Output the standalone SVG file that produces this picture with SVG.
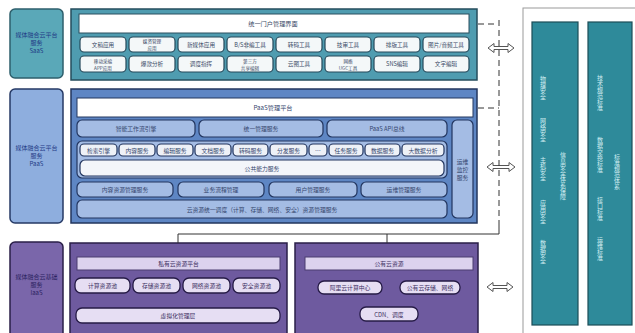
<svg xmlns="http://www.w3.org/2000/svg" width="635" height="333" viewBox="0 0 635 333">
<style>
text{font-family:"Noto Sans CJK SC","Noto Sans",sans-serif;font-size:6px;text-anchor:middle;dominant-baseline:central}
.lab{fill:#1f3a86;font-size:6px}
.sbtn{fill:#f4f8f9;stroke:#24495a;stroke-width:1.2}
.st{fill:#3a4a66;font-size:5.6px}
.s2{fill:#3a4a66;font-size:4.6px}
.pbar{fill:#a4bce4;stroke:#22355f;stroke-width:1.2}
.pbtn{fill:#eef1f7;stroke:#22355f;stroke-width:1.2}
.pt{fill:#34466e;font-size:5.8px}
.ibtn{fill:#e6def3;stroke:#261b46;stroke-width:1.3}
.it{fill:#3b2e5e;font-size:5.8px}
.col{fill:#2e8a9a;stroke:#1c4d57;stroke-width:1.2}
.vt{fill:#d2eef2;font-size:6px;writing-mode:vertical-rl;text-orientation:upright;text-anchor:start;dominant-baseline:central}
.dash{stroke:#333;stroke-width:1;stroke-dasharray:6,4;fill:none}
.ln{stroke:#333;stroke-width:1;fill:none}
.arr{fill:#fff;stroke:#555;stroke-width:1}
</style>
<rect width="635" height="333" fill="#fff"/>

<!-- SaaS layer -->
<g id="saas-label">
<rect x="10" y="9" width="53" height="69" rx="5" fill="#5aa8b8" stroke="#2e5f6c" stroke-width="1.5"/>
<text class="lab" x="36.5" y="34">媒体融合云平台</text>
<text class="lab" x="36.5" y="42">服务</text>
<text class="lab" x="36.5" y="50">SaaS</text>
</g>
<g id="saas">
<rect x="71" y="9" width="406" height="71" fill="#4f9cb0" stroke="#244c5c" stroke-width="1.5"/>
<rect x="79" y="14" width="390" height="19" fill="#fff" stroke="#2a4f5f" stroke-width="1"/>
<text x="273" y="23.5" style="fill:#3a4a66;font-size:6.2px">统一门户管理界面</text>
<rect class="sbtn" x="80" y="37" width="46" height="15" rx="4"/><text class="st" x="103" y="44.5">文稿应用</text>
<rect class="sbtn" x="129" y="37" width="46" height="15" rx="4"/><text class="s2" x="152" y="41.2">媒资管理</text><text class="s2" x="152" y="48">应用</text>
<rect class="sbtn" x="178" y="37" width="46" height="15" rx="4"/><text class="st" x="201" y="44.5">新媒体应用</text>
<rect class="sbtn" x="227" y="37" width="46" height="15" rx="4"/><text class="st" x="250" y="44.5">B/S非编工具</text>
<rect class="sbtn" x="276" y="37" width="46" height="15" rx="4"/><text class="st" x="299" y="44.5">转码工具</text>
<rect class="sbtn" x="325" y="37" width="46" height="15" rx="4"/><text class="st" x="348" y="44.5">技审工具</text>
<rect class="sbtn" x="374" y="37" width="46" height="15" rx="4"/><text class="st" x="397" y="44.5">排版工具</text>
<rect class="sbtn" x="423" y="37" width="46" height="15" rx="4"/><text class="st" x="446" y="44.5">图片/音频工具</text>
<rect class="sbtn" x="80" y="56" width="46" height="16" rx="4"/><text class="s2" x="103" y="60.5">移动采编</text><text class="s2" x="103" y="67.5">APP应用</text>
<rect class="sbtn" x="129" y="56" width="46" height="16" rx="4"/><text class="st" x="152" y="64">爆款分析</text>
<rect class="sbtn" x="178" y="56" width="46" height="16" rx="4"/><text class="st" x="201" y="64">调度指挥</text>
<rect class="sbtn" x="227" y="56" width="46" height="16" rx="4"/><text class="s2" x="250" y="60.5">第三方</text><text class="s2" x="250" y="67.5">共享编辑</text>
<rect class="sbtn" x="276" y="56" width="46" height="16" rx="4"/><text class="st" x="299" y="64">云图工具</text>
<rect class="sbtn" x="325" y="56" width="46" height="16" rx="4"/><text class="s2" x="348" y="60.5">网络</text><text class="s2" x="348" y="67.5">UGC工具</text>
<rect class="sbtn" x="374" y="56" width="46" height="16" rx="4"/><text class="st" x="397" y="64">SNS编辑</text>
<rect class="sbtn" x="423" y="56" width="46" height="16" rx="4"/><text class="st" x="446" y="64">文字编辑</text>
</g>

<!-- PaaS layer -->
<g id="paas-label">
<rect x="10" y="89" width="53" height="134" rx="5" fill="#8eaede" stroke="#263a66" stroke-width="1.5"/>
<text class="lab" x="36.5" y="147">媒体融合云平台</text>
<text class="lab" x="36.5" y="155">服务</text>
<text class="lab" x="36.5" y="163">PaaS</text>
</g>
<g id="paas">
<rect x="71" y="89" width="406" height="134" fill="#5e86c4" stroke="#23365e" stroke-width="1.5"/>
<rect x="77" y="98" width="396" height="19" fill="#fff" stroke="#23365e" stroke-width="1"/>
<text x="273" y="107.5" style="fill:#34466e;font-size:6.2px">PaaS管理平台</text>
<rect class="pbar" x="77" y="120" width="118" height="17" rx="5"/><text class="pt" x="136" y="128.5">智能工作流引擎</text>
<rect class="pbar" x="199" y="120" width="124" height="17" rx="5"/><text class="pt" x="261" y="128.5">统一管理服务</text>
<rect class="pbar" x="327" y="120" width="120" height="17" rx="5"/><text class="pt" x="387" y="128.5">PaaS API总线</text>
<rect x="77" y="141" width="370" height="37" rx="5" fill="#a4bce4" stroke="#22355f" stroke-width="1.2"/>
<rect class="pbtn" x="80" y="144" width="37" height="12" rx="4"/><text class="pt" x="98.5" y="150">检索引擎</text>
<rect class="pbtn" x="119" y="144" width="36" height="12" rx="4"/><text class="pt" x="137" y="150">内容服务</text>
<rect class="pbtn" x="157" y="144" width="36" height="12" rx="4"/><text class="pt" x="175" y="150">编辑服务</text>
<rect class="pbtn" x="195" y="144" width="36" height="12" rx="4"/><text class="pt" x="213" y="150">文档服务</text>
<rect class="pbtn" x="233" y="144" width="35" height="12" rx="4"/><text class="pt" x="250.5" y="150">转码服务</text>
<rect class="pbtn" x="270" y="144" width="37" height="12" rx="4"/><text class="pt" x="288.5" y="150">分发服务</text>
<rect class="pbtn" x="309" y="144" width="18" height="12" rx="4"/><text class="pt" x="318" y="150">…</text>
<rect class="pbtn" x="329" y="144" width="34" height="12" rx="4"/><text class="pt" x="346" y="150">任务服务</text>
<rect class="pbtn" x="365" y="144" width="35" height="12" rx="4"/><text class="pt" x="382.5" y="150">数据服务</text>
<rect class="pbtn" x="402" y="144" width="42" height="12" rx="4"/><text class="pt" x="423" y="150">大数据分析</text>
<rect x="80" y="160" width="364" height="16" rx="5" fill="#f3f5fa" stroke="#22355f" stroke-width="1.2"/>
<text class="pt" x="262" y="168">公共能力服务</text>
<rect class="pbar" x="77" y="182" width="96" height="15" rx="5"/><text class="pt" x="125" y="189.5">内容资源管理服务</text>
<rect class="pbar" x="178" y="182" width="86" height="15" rx="5"/><text class="pt" x="221" y="189.5">业务流程管理</text>
<rect class="pbar" x="269" y="182" width="88" height="15" rx="5"/><text class="pt" x="313" y="189.5">用户管理服务</text>
<rect class="pbar" x="361" y="182" width="86" height="15" rx="5"/><text class="pt" x="404" y="189.5">运维管理服务</text>
<rect class="pbar" x="77" y="200" width="370" height="18" rx="5"/><text class="pt" x="262" y="209">云资源统一调度（计算、存储、网络、安全）资源管理服务</text>
<rect class="pbar" x="452" y="120" width="21" height="98" rx="5"/>
<text class="pt" x="462.5" y="161">运维</text><text class="pt" x="462.5" y="169">监控</text><text class="pt" x="462.5" y="177">服务</text>
</g>

<!-- IaaS layer -->
<g id="iaas-label">
<rect x="10" y="242" width="53" height="96" rx="5" fill="#7a66aa" stroke="#2a1f48" stroke-width="1.5"/>
<text class="lab" x="36.5" y="276" style="fill:#2a2260">媒体融合云基础</text>
<text class="lab" x="36.5" y="284" style="fill:#2a2260">服务</text>
<text class="lab" x="36.5" y="292" style="fill:#2a2260">IaaS</text>
</g>
<g id="private-cloud">
<rect x="70" y="243" width="217" height="95" fill="#6e5a9f" stroke="#2a1f48" stroke-width="1.5"/>
<rect x="77" y="257" width="203" height="13" fill="#dcd2ee" stroke="#4a3d70" stroke-width="1"/>
<text class="it" x="178.5" y="263.5">私有云资源平台</text>
<rect class="ibtn" x="75" y="278" width="55" height="15" rx="6"/><text class="it" x="102.5" y="285.5">计算资源池</text>
<rect class="ibtn" x="133" y="278" width="47" height="15" rx="6"/><text class="it" x="156.5" y="285.5">存储资源池</text>
<rect class="ibtn" x="183" y="278" width="47" height="15" rx="6"/><text class="it" x="206.5" y="285.5">网络资源池</text>
<rect class="ibtn" x="233" y="278" width="47" height="15" rx="6"/><text class="it" x="256.5" y="285.5">安全资源池</text>
<rect class="ibtn" x="76" y="308" width="204" height="15" rx="6"/><text class="it" x="178" y="315.5">虚拟化管理层</text>
</g>
<g id="public-cloud">
<rect x="295" y="243" width="183" height="95" fill="#6e5a9f" stroke="#2a1f48" stroke-width="1.5"/>
<rect x="305" y="257" width="168" height="13" fill="#dcd2ee" stroke="#4a3d70" stroke-width="1"/>
<text class="it" x="389" y="263.5">公有云资源</text>
<rect class="ibtn" x="318" y="281" width="64" height="13" rx="6"/><text class="it" x="350" y="287.5">阿里云计算中心</text>
<rect class="ibtn" x="400" y="281" width="60" height="13" rx="6"/><text class="it" x="430" y="287.5">公有云存储、网络</text>
<rect class="ibtn" x="360" y="307" width="58" height="14" rx="6"/><text class="it" x="389" y="314">CDN、调度</text>
</g>

<!-- Right panel -->
<g id="right-panel">
<rect x="523" y="8" width="120" height="332" fill="#fff" stroke="#9a9a9a" stroke-width="1"/>
</g>
<g id="security">
<rect class="col" x="532" y="22" width="46" height="303"/>
<text class="vt" x="543" y="76">物理安全</text>
<text class="vt" x="543" y="118">网络安全</text>
<text class="vt" x="543" y="157">主机安全</text>
<text class="vt" x="543" y="200">应用安全</text>
<text class="vt" x="543" y="240">数据安全</text>
<text class="vt" x="563" y="152">信息安全体系保障</text>
</g>
<g id="standards">
<rect class="col" x="588" y="22" width="44" height="303"/>
<text class="vt" x="600" y="75">技术规范标准</text>
<text class="vt" x="600" y="137">数据交换标准</text>
<text class="vt" x="600" y="197">接口标准</text>
<text class="vt" x="600" y="237">运维标准</text>
<text class="vt" x="617" y="154">标准规范体系</text>
</g>

<!-- Connectors -->
<g id="connectors">
<path class="arr" d="M488,48 L494,43.5 L494,46.5 L508,46.5 L508,43.5 L514,48 L508,52.5 L508,49.5 L494,49.5 L494,52.5 Z"/>
<path class="arr" d="M487,167 L493,162.5 L493,165.5 L509,165.5 L509,162.5 L515,167 L509,171.5 L509,168.5 L493,168.5 L493,171.5 Z"/>
<path class="arr" d="M487,287 L493,282.5 L493,285.5 L507,285.5 L507,282.5 L513,287 L507,291.5 L507,288.5 L493,288.5 L493,291.5 Z"/>
<line class="dash" x1="499" y1="20" x2="499" y2="228"/>
<line class="dash" x1="478" y1="24" x2="497" y2="24"/>
<line class="dash" x1="478" y1="108" x2="499" y2="108"/>
<polyline class="ln" points="499,226 499,234 178,234 178,243"/>
<line class="ln" x1="387" y1="234" x2="387" y2="243"/>
</g>
</svg>
